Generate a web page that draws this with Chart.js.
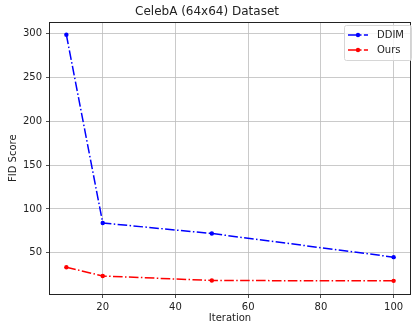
<!DOCTYPE html>
<html>
<head>
  <title>CelebA FID</title>
  <script src="https://cdn.jsdelivr.net/npm/chart.js"></script>
  <style>
    html, body { margin: 0; padding: 0; overflow: hidden; background: #fff; }
    canvas { display: block; }
  </style>
</head>
<body>
  <canvas id="fidChart" width="414" height="323" style="width:414px;height:323px"></canvas>

  <script>
    // chart values
    var iterations = [10, 20, 50, 100];
    var ddimFid = [299, 84, 72, 45];
    var oursFid = [33.5, 23.5, 18.3, 17.9];
    var xTicks = [20, 40, 60, 80, 100];
    var yTicks = [50, 100, 150, 200, 250, 300];

    function toPoints(xs, ys) {
      return xs.map(function (x, i) { return { x: x, y: ys[i] }; });
    }

    var font = 'DejaVu Sans';
    var dashDot = [9.6, 2.4, 1.5, 2.4];

    // plot frame like matplotlib spines
    var framePlugin = {
      id: 'frame',
      afterDatasetsDraw: function (chart) {
        var a = chart.chartArea, ctx = chart.ctx;
        ctx.save();
        ctx.strokeStyle = '#222';
        ctx.lineWidth = 1;
        ctx.strokeRect(Math.round(a.left) - 0.5, Math.round(a.top) + 0.5,
          Math.round(a.right - a.left) + 1, Math.round(a.bottom - a.top));
        ctx.restore();
      }
    };

    // matplotlib-style legend box in the upper right
    var legendPlugin = {
      id: 'mplLegend',
      afterDraw: function (chart) {
        var ctx = chart.ctx;
        var x0 = 344, y0 = 25, w = 67, h = 35;
        ctx.save();
        ctx.fillStyle = 'rgba(255,255,255,0.8)';
        ctx.strokeStyle = '#d6d6d6';
        ctx.lineWidth = 1;
        ctx.beginPath();
        ctx.roundRect(x0 + 0.5, y0 + 0.5, w, h, 2);
        ctx.fill();
        ctx.stroke();
        chart.data.datasets.forEach(function (ds, i) {
          var y = y0 + 10 + i * 15;
          ctx.strokeStyle = ds.borderColor;
          ctx.lineWidth = 1.5;
          ctx.setLineDash(dashDot);
          ctx.beginPath();
          ctx.moveTo(348, y);
          ctx.lineTo(368, y);
          ctx.stroke();
          ctx.setLineDash([]);
          ctx.fillStyle = ds.borderColor;
          ctx.beginPath();
          ctx.arc(358, y, 2.2, 0, Math.PI * 2);
          ctx.fill();
          ctx.fillStyle = '#222';
          ctx.font = '10px "' + font + '"';
          ctx.textBaseline = 'middle';
          ctx.fillText(ds.label, 377, y);
        });
        ctx.restore();
      }
    };

    new Chart(document.getElementById('fidChart'), {
      type: 'line',
      data: {
        datasets: [{
          label: 'DDIM',
          data: toPoints(iterations, ddimFid),
          borderColor: '#0000ff',
          backgroundColor: '#0000ff',
          borderWidth: 1.5,
          borderDash: dashDot,
          pointRadius: 2.2,
          pointBorderWidth: 0,
          tension: 0,
          fill: false
        }, {
          label: 'Ours',
          data: toPoints(iterations, oursFid),
          borderColor: '#ff0000',
          backgroundColor: '#ff0000',
          borderWidth: 1.5,
          borderDash: dashDot,
          pointRadius: 2.2,
          pointBorderWidth: 0,
          tension: 0,
          fill: false
        }]
      },
      options: {
        responsive: false,
        animation: false,
        layout: { padding: 0 },
        plugins: {
          legend: { display: false },
          tooltip: { enabled: false },
          title: {
            display: true,
            text: 'CelebA (64x64) Dataset',
            color: '#222',
            font: { family: font, size: 12, weight: 'normal', lineHeight: 1.2 },
            padding: { top: 5, bottom: 3 }
          }
        },
        scales: {
          x: {
            type: 'linear',
            min: 5.5,
            max: 104.5,
            afterBuildTicks: function (axis) {
              axis.ticks = xTicks.map(function (v) { return { value: v }; });
            },
            afterFit: function (axis) { axis.height = 29; },
            grid: { color: '#bdbdbd', lineWidth: 0.8, tickLength: 4, tickColor: '#222', drawTicks: true },
            border: { display: false },
            ticks: { color: '#222', padding: 3, maxRotation: 0, font: { family: font, size: 10 } },
            title: {
              display: true,
              text: 'Iteration',
              color: '#222',
              font: { family: font, size: 10, lineHeight: 0.9 },
              padding: { top: 0, bottom: 0 }
            }
          },
          y: {
            type: 'linear',
            min: 2.9,
            max: 313.1,
            afterBuildTicks: function (axis) {
              axis.ticks = yTicks.map(function (v) { return { value: v }; });
            },
            afterFit: function (axis) { axis.width = 50; },
            grid: { color: '#bdbdbd', lineWidth: 0.8, tickLength: 4, tickColor: '#222', drawTicks: true },
            border: { display: false },
            ticks: { color: '#222', padding: 4, font: { family: font, size: 10 } },
            title: {
              display: true,
              text: 'FID Score',
              color: '#222',
              font: { family: font, size: 10 },
              padding: { top: 7, bottom: 0 }
            }
          }
        }
      },
      plugins: [framePlugin, legendPlugin]
    });
  </script>
</body>
</html>
